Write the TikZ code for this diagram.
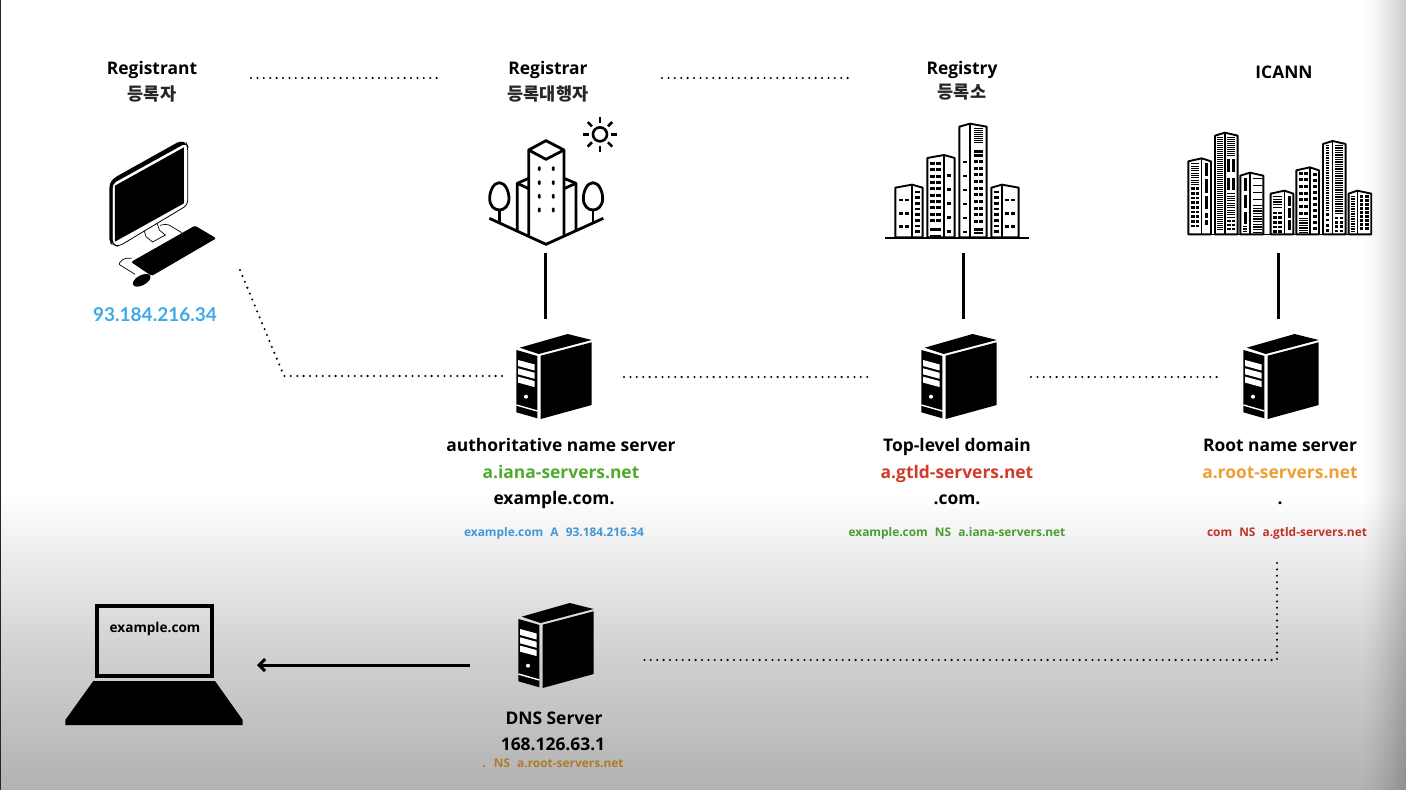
\documentclass[tikz,border=0pt]{standalone}
\usepackage{fontspec}
\setmainfont{Open Sans}
\newfontfamily\lab{Open Sans}
\newfontfamily\labnum{Lato}
\newfontfamily\kor{Noto Sans CJK KR}
\usetikzlibrary{arrows.meta,calc}
\definecolor{cBlue}{HTML}{3FA9E8}
\definecolor{cBlueS}{HTML}{3F97D8}
\definecolor{cGreen}{HTML}{4FAB2C}
\definecolor{cGreenS}{HTML}{4A9E30}
\definecolor{cRed}{HTML}{D23A2A}
\definecolor{cRedS}{HTML}{C0332A}
\definecolor{cOrange}{HTML}{EE9F33}
\definecolor{cBrown}{HTML}{B07A28}
\definecolor{bgA}{HTML}{EBEBEB}
\definecolor{bgB}{HTML}{CFCFCF}
\definecolor{bgC}{HTML}{B2B2B2}
\tikzset{
 big/.style={font=\lab\bfseries\fontsize{17.4}{20}\selectfont,inner sep=0pt,text=black,anchor=base},
 small/.style={font=\lab\bfseries\fontsize{11.9}{14}\selectfont,inner sep=0pt,anchor=base},
 hangul/.style={font=\kor\bfseries\fontsize{17.5}{19}\selectfont,inner sep=0pt,anchor=base,text=black!85},
 dots/.style={line width=2.3pt,line cap=round,dash pattern=on 0pt off 6.4pt},
 solidline/.style={line width=3pt},
 icon/.style={line width=2.8pt,line join=round},
 bldg/.style={line width=1.9pt,line join=round,fill=white},
}
\newcommand{\hw}[6]{% x1 x2 y1 y2 step h
 \pgfmathsetmacro\yNext{#3+#5}
 \foreach \yy in {#3,\yNext,...,#4}{\fill[black] (#1,\yy) rectangle (#2,\yy+#6);}
}
\newcommand{\tower}[5]{% xl mid xr top bottom
 \draw[bldg] (#1,#5) -- (#1,#4+9) -- (#2,#4) -- (#3,#4+9) -- (#3,#5) -- cycle;
 \draw[line width=1.5pt] (#2,#4) -- (#2,#5);
}
\newcommand{\serverat}[3]{%
\begin{scope}[xshift=#2pt,yshift=-#3pt]
 \fill (20,22.7) -- (68,9) -- (92,15) -- (39,29) -- cycle;
 \fill (16.7,25) -- (37.7,31) -- (37.7,93.3) -- (16.7,87.3) -- cycle;
 \fill (41,30.7) -- (92,17.3) -- (92,80) -- (41,94) -- cycle;
 \foreach \dy in {0,8.3,16.6}{\fill[white] (18.3,35+\dy) -- (35,39.5+\dy) -- (35,45.5+\dy) -- (18.3,41+\dy) -- cycle;}
 \fill[white] (26.3,71.7) circle (2pt);
 \draw[white,line width=1.4pt] (16.7,80) -- (37.7,86);
 \node[inner sep=0pt,minimum size=0pt] (#1) at (54,51.5) {};
\end{scope}}
\begin{document}
\begin{tikzpicture}[x=1pt,y=-1pt]
\useasboundingbox (0,0) rectangle (1406,790);
\fill[white] (0,0) rectangle (1406,790);
\shade[top color=white,bottom color=bgA] (0,495) rectangle (1406,560.5);
\shade[top color=bgA,bottom color=bgB] (0,560) rectangle (1406,660.5);
\shade[top color=bgB,bottom color=bgC] (0,660) rectangle (1406,790);
\foreach \i in {0,...,43}{
 \pgfmathsetmacro\op{0.2*((\i+1)/44)^1.4}
 \fill[black,opacity=\op] (1362+\i,0) rectangle (1363+\i,790);
}
\fill[black!85] (0,0) rectangle (1.3,790);

%% computer
\begin{scope}[xshift=60pt,yshift=-40pt,x=0.3333pt,y=-0.3333pt]
 \draw[line width=0.7pt,rounded corners=2pt] (215,655)--(192,655)--(175,672)--(225,703);
 \draw[line width=0.7pt,rounded corners=2pt] (300,556)--(322,552)--(365,578);
 \draw[line width=0.7pt,fill=white] (252,570) -- (258,590) -- (278,606) -- (316,585) -- (298,570) -- (290,545) -- cycle;
 \fill[rounded corners=4pt] (148,432) -- (160,415) -- (362,302) -- (382,310) -- (160,432) -- (160,617) -- (148,608) -- cycle;
 \draw[line width=0.8pt,fill=white,rounded corners=4pt] (157,430) -- (378,308) -- (383,318) -- (383,495) -- (175,620) -- (157,612) -- cycle;
 \fill (165,437) -- (372,322) -- (372,490) -- (165,605) -- cycle;
 \fill[rounded corners=1.5pt] (213,666) -- (405,557) -- (469,595) -- (275,708) -- cycle;
 \fill[rotate around={28:(245,721)}] (245,721) ellipse [x radius=29,y radius=15];
\end{scope}

%% registrar building
\begin{scope}[xshift=470pt,yshift=-100pt,x=0.3333pt,y=-0.3333pt]
 \draw[icon] (176,405)--(176,150)--(228,122)--(282,150)--(282,405);
 \draw[icon] (176,150)--(228,178)--(282,150);
 \draw[icon] (142,395)--(142,250)--(176,235);
 \draw[icon] (142,250)--(176,266);
 \draw[icon] (318,395)--(318,250)--(282,235);
 \draw[icon] (318,250)--(282,266);
 \draw[icon] (58,355)--(228,433)--(400,355);
 \foreach \cx in {88,369}{
  \draw[icon] (\cx,248) .. controls (\cx+18,248) and (\cx+29,275) .. (\cx+29,295) .. controls (\cx+29,318) and (\cx+15,330) .. (\cx,330) .. controls (\cx-15,330) and (\cx-29,318) .. (\cx-29,295) .. controls (\cx-29,275) and (\cx-18,248) .. (\cx,248) -- cycle;
  \draw[icon] (\cx,330)--(\cx,370);
 }
 \foreach \wx in {208,250}\foreach \wy in {206,248,289,330}{
  \fill[rounded corners=1pt] (\wx-4,\wy-7) rectangle (\wx+4,\wy+7);
 }
 \draw[line width=2.6pt] (390,103) circle [radius=21];
 \foreach \a in {0,45,...,315}{
  \draw[line width=2.6pt] ($(390,103)+(\a:34)$) -- ($(390,103)+(\a:52)$);
 }
\end{scope}

%% registry city
\begin{scope}[xshift=870pt,yshift=-110pt,x=0.3333pt,y=-0.3333pt]
 \draw[line width=1.9pt] (45,384)--(477,384);
 \tower{76}{126}{158}{224}{382}
 \tower{172}{222}{254}{135}{382}
 \tower{268}{300}{350}{41}{382}
 \tower{364}{396}{446}{224}{382}
 \hw{87}{99}{266}{346}{40}{8}\hw{104}{116}{266}{346}{40}{8}
 \hw{136}{150}{242}{366}{17}{8}
 \hw{181}{194}{156}{336}{19}{9}\hw{198}{212}{156}{336}{19}{9}
 \hw{181}{212}{355}{356}{20}{8}
 \hw{232}{243}{192}{362}{42}{8}
 \hw{312}{340}{55}{100}{6}{3}
 \hw{312}{340}{120}{140}{13}{9}
 \hw{312}{323}{150}{335}{20}{9}\hw{327}{340}{150}{335}{20}{9}
 \hw{312}{340}{355}{356}{10}{8}
 \hw{278}{290}{152}{362}{42}{8}
 \hw{372}{386}{242}{366}{17}{8}
 \hw{406}{418}{266}{346}{40}{8}\hw{423}{436}{266}{346}{40}{8}
\end{scope}

%% icann city
\begin{scope}[xshift=870pt,yshift=-110pt,x=0.3333pt,y=-0.3333pt]
 \draw[line width=1.6pt] (955,373)--(1505,373);
 \tower{955}{995}{1023}{145}{373}
 \tower{1035}{1065}{1103}{68}{373}
 \tower{1111}{1140}{1180}{188}{373}
 \tower{1202}{1243}{1270}{242}{373}
 \tower{1279}{1320}{1347}{172}{373}
 \tower{1359}{1388}{1427}{93}{373}
 \tower{1436}{1462}{1504}{242}{373}
 \hw{963}{988}{160}{225}{7}{3}
 \hw{963}{974}{232}{355}{14}{8}\hw{977}{988}{232}{355}{14}{8}
 \hw{1005}{1013}{158}{290}{50}{40}\hw{1005}{1013}{310}{340}{20}{14}
 \hw{1042}{1058}{82}{360}{6}{2}
 \hw{1072}{1096}{80}{135}{6}{3}
 \hw{1072}{1080}{148}{205}{55}{38}\hw{1087}{1095}{148}{205}{55}{38}
 \hw{1072}{1096}{250}{320}{7}{3}
 \hw{1072}{1082}{330}{360}{12}{7}\hw{1086}{1096}{330}{360}{12}{7}
 \hw{1122}{1130}{205}{305}{50}{38}
 \hw{1148}{1175}{205}{270}{21}{3}
 \hw{1148}{1175}{285}{365}{8}{4}
 \hw{1118}{1132}{348}{366}{5}{2}
 \hw{1208}{1236}{258}{295}{8}{4}
 \hw{1208}{1220}{305}{362}{14}{8}\hw{1224}{1236}{305}{362}{14}{8}
 \hw{1255}{1262}{258}{350}{36}{30}
 \hw{1288}{1298}{185}{315}{20}{9}\hw{1303}{1313}{185}{315}{20}{9}
 \hw{1288}{1313}{325}{365}{5}{3}
 \hw{1330}{1340}{190}{365}{18}{9}
 \hw{1368}{1378}{105}{300}{5}{2}
 \hw{1368}{1378}{310}{362}{16}{8}
 \hw{1394}{1420}{105}{310}{7}{4}
 \hw{1394}{1405}{320}{360}{13}{8}\hw{1409}{1420}{320}{360}{13}{8}
 \hw{1444}{1454}{258}{366}{5}{2}
 \hw{1470}{1480}{255}{360}{12}{8}\hw{1485}{1498}{255}{360}{12}{8}
\end{scope}

%% servers
\serverat{srvAuth}{499.7}{325}
\serverat{srvTld}{904.7}{325}
\serverat{srvRoot}{1226.7}{325}
\serverat{srvDns}{501.7}{594}

%% laptop
\node[draw=black,line width=3.8pt,minimum width=115pt,minimum height=70pt,inner sep=0pt] (laptop) at (154.5,641) {};
\fill (93.3,681) -- (215,681) -- (242.7,720) -- (242.7,725) -- (65.3,725) -- (65.3,720) -- cycle;
\node[small,font=\lab\bfseries\fontsize{13.6}{16}\selectfont] (urlText) at (155,632.7) {example.com};

%% labels
\node[big] (tRegistrant) at (152,74) {Registrant};
\node[hangul] (kRegistrant) at (152,100) {등록자};
\node[big] (tRegistrar) at (548,74) {Registrar};
\node[hangul] (kRegistrar) at (548,100) {등록대행자};
\node[big] (tRegistry) at (962,74) {Registry};
\node[hangul] (kRegistry) at (962,98) {등록소};
\node[big] (tIcann) at (1284,78) {ICANN};
\node[big,text=cBlue,font=\labnum\bfseries\fontsize{19}{20}\selectfont] (ipHost) at (155,321) {93.184.216.34};

\node[big] (a1) at (561,451) {authoritative name server};
\node[big,text=cGreen] (a2) at (561,478) {a.iana-servers.net};
\node[big] (a3) at (554,504) {example.com.};
\node[small,text=cBlueS] (a4) at (554,536) {example.com\hspace{4pt} A\hspace{4pt} 93.184.216.34};

\node[big] (b1) at (957,451) {Top-level domain};
\node[big,text=cRed] (b2) at (957,478) {a.gtld-servers.net};
\node[big] (b3) at (957,504) {.com.};
\node[small,text=cGreenS] (b4) at (957,536) {example.com\hspace{4pt} NS\hspace{4pt} a.iana-servers.net};

\node[big] (c1) at (1280,451) {Root name server};
\node[big,text=cOrange] (c2) at (1280,478) {a.root-servers.net};
\node[big] (c3) at (1280,504) {.};
\node[small,text=cRedS] (c4) at (1287,536) {com\hspace{4pt} NS\hspace{4pt} a.gtld-servers.net};

\node[big] (d1) at (554,724) {DNS Server};
\node[big] (d2) at (553,750) {168.126.63.1};
\node[small,text=cBrown] (d3) at (553,767) {.\hspace{4pt} NS\hspace{4pt} a.root-servers.net};

%% connector ends
\coordinate (p1a) at (251,78); \coordinate (p1b) at (438,78);
\coordinate (p2a) at (662,78); \coordinate (p2b) at (849,78);
\coordinate (p3a) at (240,270); \coordinate (p3c) at (284,376); \coordinate (p3b) at (503,376);
\coordinate (p4a) at (624,377); \coordinate (p4b) at (872,377);
\coordinate (p5a) at (1031,377); \coordinate (p5b) at (1219,377);
\coordinate (p6a) at (1277,563); \coordinate (p6c) at (1277,660); \coordinate (p6b) at (644,660);
\coordinate (s1a) at (545,253); \coordinate (s1b) at (545,319);
\coordinate (s2a) at (963,253); \coordinate (s2b) at (963,319);
\coordinate (s3a) at (1278,253); \coordinate (s3b) at (1278,319);
\coordinate (arrA) at (470,665); \coordinate (arrB) at (257,665);

\draw[dots] (p1a) -- (p1b);
\draw[dots] (p2a) -- (p2b);
\draw[dots] (p3a) -- (p3c) -- (p3b);
\draw[dots] (p4a) -- (p4b);
\draw[dots] (p5a) -- (p5b);
\draw[dots] (p6a) -- (p6c) -- (p6b);
\draw[solidline] (s1a) -- (s1b);
\draw[solidline] (s2a) -- (s2b);
\draw[solidline] (s3a) -- (s3b);
\draw[solidline,-{Straight Barb[length=6pt,width=12pt]}] (arrA) -- (arrB);
\end{tikzpicture}
\end{document}
